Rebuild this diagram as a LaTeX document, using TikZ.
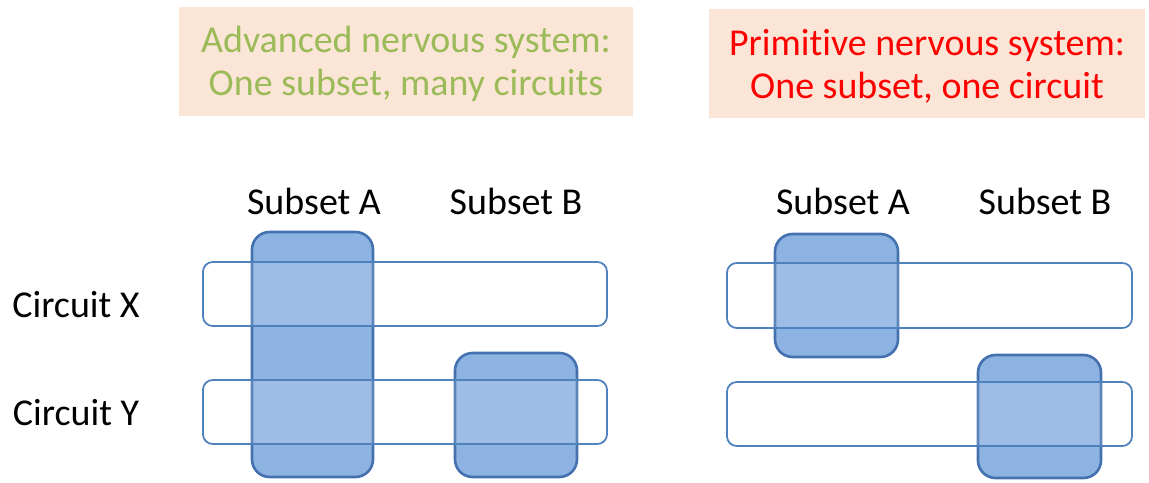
\documentclass[tikz,border=0pt]{standalone}
\usepackage{fontspec}
\setmainfont{Carlito}[Ligatures=NoCommon]
\definecolor{peach}{HTML}{FBE5D6}
\definecolor{advgreen}{HTML}{9BBB59}
\definecolor{primred}{HTML}{FF0000}
\definecolor{subsetfill}{HTML}{8DB3E2}
\definecolor{subsetline}{HTML}{4472B0}
\definecolor{circuitline}{HTML}{4F81BD}
\tikzset{
    subset/.style={fill=subsetfill, draw=subsetline, line width=1.5pt, rounded corners=10pt},
    circuit/.style={fill=white, fill opacity=0.14, draw=circuitline, draw opacity=1, line width=1pt, rounded corners=5.5pt},
    title/.style={align=center, font=\fontsize{21.6}{24.6}\selectfont},
    lbl/.style={font=\fontsize{21.6}{24.4}\selectfont},
}

\begin{document}
\begin{tikzpicture}[x=0.02cm, y=-0.02cm]
\useasboundingbox (0,0) rectangle (1149,483);
% titles
\fill[peach] (179,7) rectangle (633,116);
\fill[peach] (709,9) rectangle (1145,118);
\node[title, text=advgreen] (advtitle) at (406,64) {Advanced nervous system:\\One subset, many circuits};
\node[title, text=primred] (primtitle) at (927,66) {Primitive nervous system:\\One subset, one circuit};
% labels
\node[lbl] (advA) at (314,201) {Subset A};
\node[lbl] (advB) at (516,201) {Subset B};
\node[lbl] (primA) at (843,201) {Subset A};
\node[lbl] (primB) at (1045,201) {Subset B};
\node[lbl] (cirX) at (76,305) {Circuit X};
\node[lbl] (cirY) at (76,413) {Circuit Y};
% advanced
\draw[subset] (252,232) rectangle (373,477);
\draw[subset] (455,353) rectangle (577,477);
\draw[circuit] (203,262) rectangle (607,326);
\draw[circuit] (203,380) rectangle (607,444);
% primitive
\draw[subset] (775,234) rectangle (898,357);
\draw[subset] (978,355) rectangle (1101,478);
\draw[circuit] (727,263) rectangle (1132,328);
\draw[circuit] (727,382) rectangle (1132,446);
\end{tikzpicture}
\end{document}
